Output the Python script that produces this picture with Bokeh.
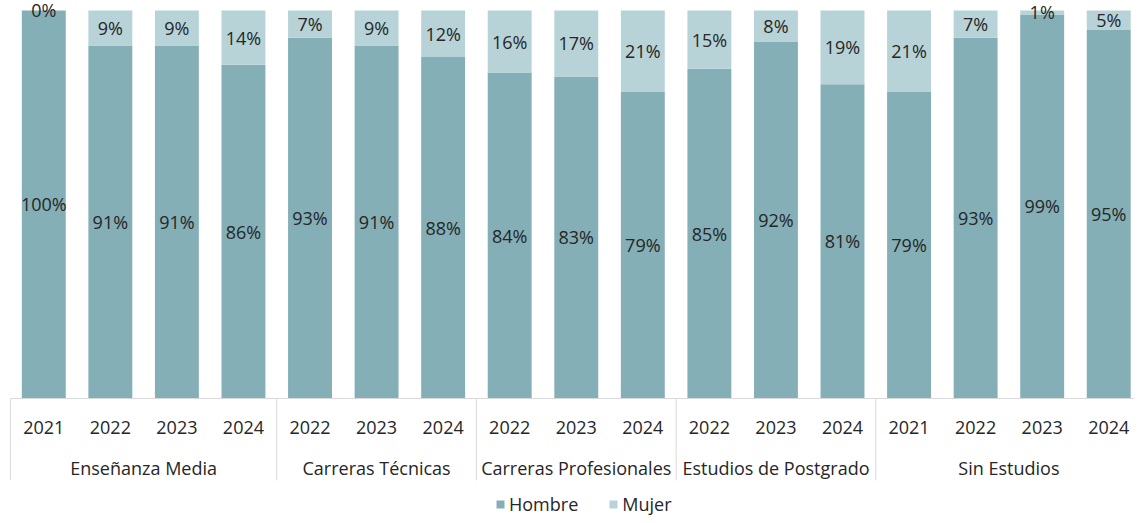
from bokeh.plotting import figure
from bokeh.models import ColumnDataSource, Range1d, Legend, LegendItem
from bokeh.core.properties import value
from bokeh.embed import file_html
from bokeh.resources import INLINE

# ---- data ----
groups = ["Enseñanza Media", "Carreras Técnicas", "Carreras Profesionales",
          "Estudios de Postgrado", "Sin Estudios"]
group_years = [["2021", "2022", "2023", "2024"],
               ["2022", "2023", "2024"],
               ["2022", "2023", "2024"],
               ["2022", "2023", "2024"],
               ["2021", "2022", "2023", "2024"]]
hombre = [100, 91, 91, 86, 93, 91, 88, 84, 83, 79, 85, 92, 81, 79, 93, 99, 95]
mujer = [0, 9, 9, 14, 7, 9, 12, 16, 17, 21, 15, 8, 19, 21, 7, 1, 5]

C_H = "#84AFB7"
C_M = "#B7D3D8"
TXT = "#262626"
FONT = value("Open Sans")

years = [y for g in group_years for y in g]
n = len(years)
xs = [i + 0.5 for i in range(n)]
h_frac = [v / 100 for v in hombre]
m_frac = [v / 100 for v in mujer]

src = ColumnDataSource(dict(x=xs, hombre=h_frac, mujer=m_frac))

W, H = 1134, 515
p = figure(width=W, height=H, output_backend="svg", toolbar_location=None,
           x_range=Range1d(-0.1502, 16.887), y_range=Range1d(-0.30155, 1.02577),
           min_border=0, outline_line_color=None)
p.axis.visible = False
p.grid.visible = False
p.background_fill_color = "white"
p.border_fill_color = "white"

rs = p.vbar_stack(["hombre", "mujer"], x="x", width=0.66, color=[C_H, C_M],
                  line_color=None, source=src)

# data labels
lab_h = ColumnDataSource(dict(x=xs, y=[v / 2 for v in h_frac],
                              t=[f"{v}%" for v in hombre]))
lab_m = ColumnDataSource(dict(x=xs, y=[h + m / 2 for h, m in zip(h_frac, m_frac)],
                              t=[f"{v}%" for v in mujer]))
for s in (lab_h, lab_m):
    p.text(x="x", y="y", text="t", source=s, text_align="center",
           text_baseline="middle", text_font=FONT, text_font_size="18px",
           text_color=TXT)

# category axis: baseline, separators, labels
p.segment(x0=[0], y0=[0], x1=[n], y1=[0], line_color="#D9D9D9", line_width=1)
bounds = [0]
for g in group_years[:-1]:
    bounds.append(bounds[-1] + len(g))
p.segment(x0=bounds, y0=[0] * len(bounds), x1=bounds, y1=[-0.211] * len(bounds),
          line_color="#D9D9D9", line_width=1)

p.text(x=xs, y=[-0.0747] * n, text=years, text_align="center",
       text_baseline="middle", text_font=FONT, text_font_size="18px",
       text_color=TXT)

gx = []
start = 0
for g in group_years:
    gx.append(start + len(g) / 2)
    start += len(g)
p.text(x=gx, y=[-0.178] * len(gx), text=groups, text_align="center",
       text_baseline="middle", text_font=FONT, text_font_size="18px",
       text_color=TXT)

legend = Legend(items=[LegendItem(label="Hombre", renderers=[rs[0]]),
                       LegendItem(label="Mujer", renderers=[rs[1]])],
                orientation="horizontal", location=(495, -1),
                glyph_width=10, glyph_height=10, label_height=12,
                label_standoff=4, spacing=30, padding=0, margin=0,
                label_text_font="Open Sans", label_text_font_size="18px",
                label_text_color=TXT, border_line_color=None,
                background_fill_alpha=0)
p.add_layout(legend, "center")

open("out.html", "w").write(file_html(p, INLINE))
